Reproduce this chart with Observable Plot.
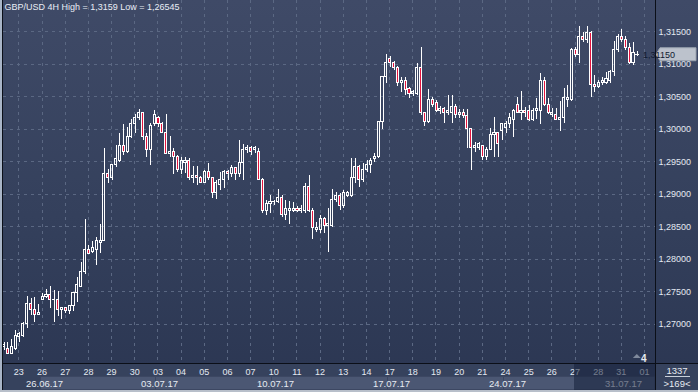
<!DOCTYPE html>
<html><head><meta charset="utf-8">
<script src="https://cdn.jsdelivr.net/npm/d3@7"></script>
<script src="https://cdn.jsdelivr.net/npm/@observablehq/plot@0.6"></script>
<style>
html,body{margin:0;padding:0;background:#2b3753;}
#chart{width:698px;height:392px;overflow:hidden;}
svg{display:block;}
</style></head><body><div id="chart"></div>
<script>
const symbol = "GBP/USD";
const timeframe = "4H";
const open = [1.2665,1.2663,1.2655,1.2663,1.2680,1.2683,1.2700,1.2731,1.2723,1.2715,
1.2738,1.2742,1.2745,1.2738,1.2737,1.2722,1.2725,1.2720,1.2729,1.2748,
1.2758,1.2780,1.2814,1.2811,1.2815,1.2826,1.2829,1.2931,1.2925,1.2945,
1.2952,1.2975,1.2966,1.2989,1.3008,1.3018,1.3025,1.2988,1.2969,1.3008,
1.3017,1.3008,1.2995,1.2963,1.2966,1.2957,1.2938,1.2949,1.2951,1.2925,
1.2929,1.2926,1.2918,1.2934,1.2925,1.2902,1.2915,1.2922,1.2934,1.2931,
1.2940,1.2931,1.2949,1.2968,1.2971,1.2968,1.2966,1.2923,1.2874,1.2886,
1.2888,1.2889,1.2894,1.2868,1.2875,1.2875,1.2878,1.2875,1.2875,1.2911,
1.2875,1.2845,1.2845,1.2863,1.2851,1.2852,1.2892,1.2898,1.2882,1.2898,
1.2898,1.2926,1.2942,1.2923,1.2938,1.2945,1.2954,1.2957,1.3011,1.3080,
1.3109,1.3102,1.3095,1.3071,1.3075,1.3062,1.3055,1.3055,1.3094,1.3025,
1.3012,1.3045,1.3040,1.3028,1.3031,1.3025,1.3026,1.3035,1.3022,1.3026,
1.3020,1.3000,1.2971,1.2972,1.2974,1.2958,1.2969,1.2991,1.2995,1.2997,
1.3002,1.3008,1.3015,1.3038,1.3026,1.3028,1.3029,1.3015,1.3028,1.3029,
1.3075,1.3038,1.3022,1.3023,1.3015,1.3017,1.3045,1.3046,1.3122,1.3114,
1.3143,1.3137,1.3149,1.3069,1.3065,1.3071,1.3072,1.3075,1.3088,1.3122,
1.3143,1.3137,1.3125,1.3102,1.3115];
const high = [1.2672,1.2672,1.2677,1.2691,1.2688,1.2703,1.2743,1.2740,1.2742,1.2731,
1.2748,1.2754,1.2758,1.2752,1.2751,1.2726,1.2726,1.2729,1.2748,1.2772,
1.2795,1.2862,1.2822,1.2828,1.2834,1.2854,1.2971,1.2938,1.2945,1.2975,
1.2994,1.3008,1.3003,1.3015,1.3023,1.3031,1.3026,1.2994,1.3009,1.3029,
1.3020,1.3011,1.3023,1.2989,1.2971,1.2960,1.2957,1.2957,1.2955,1.2943,
1.2943,1.2928,1.2937,1.2948,1.2926,1.2922,1.2934,1.2937,1.2937,1.2945,
1.2942,1.2983,1.2977,1.2975,1.2974,1.2974,1.2971,1.2925,1.2891,1.2898,
1.2891,1.2908,1.2898,1.2891,1.2889,1.2888,1.2882,1.2883,1.2917,1.2929,
1.2878,1.2857,1.2868,1.2865,1.2878,1.2908,1.2903,1.2902,1.2906,1.2905,
1.2955,1.2955,1.2945,1.2948,1.2952,1.2955,1.2963,1.3012,1.3080,1.3115,
1.3112,1.3105,1.3097,1.3080,1.3080,1.3065,1.3060,1.3102,1.3126,1.3026,
1.3062,1.3049,1.3045,1.3035,1.3034,1.3052,1.3052,1.3038,1.3031,1.3031,
1.3031,1.3002,1.2980,1.2980,1.2975,1.2972,1.3002,1.3018,1.2995,1.3009,
1.3012,1.3025,1.3031,1.3049,1.3058,1.3034,1.3037,1.3032,1.3048,1.3086,
1.3080,1.3048,1.3032,1.3032,1.3043,1.3063,1.3068,1.3125,1.3126,1.3158,
1.3149,1.3159,1.3151,1.3083,1.3075,1.3080,1.3088,1.3091,1.3135,1.3146,
1.3154,1.3143,1.3132,1.3134,1.3120];
const low = [1.2660,1.26545,1.2655,1.2660,1.2672,1.2680,1.2694,1.2714,1.2703,1.2714,
1.2737,1.2740,1.2725,1.2703,1.2712,1.2708,1.2717,1.2715,1.2720,1.2734,
1.2757,1.2777,1.2809,1.2809,1.2791,1.2809,1.2828,1.2917,1.2922,1.2942,
1.2949,1.2960,1.2963,1.2986,1.2994,1.3014,1.2983,1.2957,1.2945,1.3005,
1.3003,1.2994,1.2962,1.2957,1.2931,1.2934,1.2931,1.2932,1.2922,1.2917,
1.2914,1.2917,1.2917,1.2922,1.2894,1.2892,1.2906,1.2909,1.2922,1.2926,
1.2922,1.2926,1.2922,1.2963,1.2960,1.2963,1.2922,1.2871,1.2868,1.2871,
1.2883,1.2886,1.2865,1.2860,1.2854,1.2872,1.2872,1.2871,1.2871,1.2872,
1.2831,1.2842,1.2840,1.2840,1.2811,1.2849,1.2888,1.2875,1.2878,1.2895,
1.2895,1.2917,1.2911,1.2918,1.2934,1.2932,1.2949,1.2955,1.3000,1.3071,
1.3095,1.3091,1.3066,1.3057,1.3052,1.3048,1.3051,1.3052,1.3022,1.3005,
1.3009,1.3034,1.3026,1.3023,1.3009,1.3022,1.3009,1.3017,1.3017,1.3017,
1.2971,1.2937,1.2965,1.2968,1.2952,1.2952,1.2968,1.2957,1.2957,1.2983,
1.2994,1.3002,1.2988,1.3025,1.3014,1.3018,1.3012,1.3012,1.3015,1.3008,
1.3035,1.3023,1.3018,1.3014,1.2997,1.3009,1.3034,1.3043,1.3111,1.3102,
1.3134,1.3132,1.3049,1.3057,1.3063,1.3068,1.3069,1.3071,1.3082,1.3118,
1.3134,1.3122,1.3100,1.3098,1.3112];
const close = [1.2668,1.2655,1.2665,1.2682,1.2685,1.2700,1.2731,1.2723,1.2715,1.2718,
1.2743,1.2745,1.2738,1.2737,1.2722,1.2725,1.2720,1.2729,1.2748,1.2760,
1.2780,1.2814,1.2809,1.2817,1.2828,1.2829,1.2931,1.2925,1.2945,1.2954,
1.2975,1.2966,1.2989,1.3008,1.3017,1.3025,1.2988,1.2969,1.3006,1.3022,
1.3008,1.2995,1.2963,1.2966,1.2957,1.2938,1.2952,1.2952,1.2925,1.2929,
1.2926,1.2918,1.2934,1.2925,1.2902,1.2917,1.2922,1.2934,1.2931,1.2940,
1.2931,1.2949,1.2969,1.2971,1.2965,1.2971,1.2923,1.2874,1.2886,1.2888,
1.2889,1.2894,1.2868,1.2877,1.2878,1.2878,1.2875,1.2878,1.2911,1.2875,
1.2849,1.2848,1.2863,1.2852,1.2854,1.2892,1.2898,1.2882,1.2902,1.2902,
1.2926,1.2942,1.2923,1.2938,1.2946,1.2952,1.2957,1.3012,1.3080,1.3102,
1.3102,1.3095,1.3071,1.3075,1.3060,1.3055,1.3057,1.3094,1.3025,1.3012,
1.3045,1.3038,1.3029,1.3031,1.3025,1.3029,1.3035,1.3022,1.3026,1.3020,
1.3000,1.2971,1.2975,1.2977,1.2958,1.2969,1.2992,1.2994,1.2978,1.3008,
1.3009,1.3017,1.3028,1.3026,1.3028,1.3026,1.3015,1.3028,1.3031,1.3075,
1.3038,1.3025,1.3026,1.3015,1.3018,1.3048,1.3048,1.3122,1.3114,1.3143,
1.3137,1.3149,1.3068,1.3065,1.3071,1.3074,1.3077,1.3089,1.3122,1.3143,
1.3137,1.3125,1.3102,1.3117,1.3115];
const dayLabels = ["23","26","27","28","29","30","03","04","05","06","07","10","11","12","13","14","17","18","19","20","21","24","25","26","27","28","31","01"];
const weekLabels = ["26.06.17","03.07.17","10.07.17","17.07.17","24.07.17","31.07.17"];
const weekStartDay = [1,6,11,16,21,26];
const priceTicks = [1.27,1.275,1.28,1.285,1.29,1.295,1.30,1.305,1.31,1.315];
const barTotal = "1337";
const barsVisible = ">169<";
const markerText = "4";

const W = 698, H = 392;
const bars = open.map((o, k) => ({i: k + 1, open: o, high: high[k], low: low[k], close: close[k]}));
const dayPos = dayLabels.map((d, k) => 4.85 + 6 * k);
const dayMap = new Map(dayPos.map((p, k) => [p, dayLabels[k]]));
const comma = v => String(v).replace(".", ",");
const header = `${symbol} ${timeframe} High = ${comma(d3.max(high))} Low = ${comma(d3.min(low))}`;
const FONT = "'Liberation Sans', Arial, sans-serif";
const RED = "#e3143e";
const isDoji = d => Math.abs(d.open - d.close) < 0.00005;

const plot = Plot.plot({
  width: W, height: H,
  marginLeft: 3, marginRight: 43, marginTop: 0, marginBottom: 29,
  style: {background: "linear-gradient(to bottom, #3f4a67 0%, #34405c 55%, #2b3652 100%)", fontFamily: FONT, fontSize: "9px", color: "#e4e9f1"},
  x: {domain: [0.8705, 169.69], ticks: dayPos, tickFormat: d => dayMap.get(d), tickSize: 0, tickPadding: 5, label: null},
  y: {domain: [1.264, 1.319846], axis: "right", ticks: priceTicks, tickFormat: d => d.toFixed(5).replace(".", ","), tickSize: 0, tickPadding: 3, label: null},
  marks: [
    Plot.ruleY(priceTicks, {stroke: "#5b6883", strokeDasharray: "3,4", shapeRendering: "crispEdges"}),
    Plot.ruleX(dayPos, {stroke: "#5b6883", strokeDasharray: "3,4", shapeRendering: "crispEdges"}),
    Plot.ruleX(bars, {x: "i", y1: d => Math.max(d.open, d.close), y2: "high", stroke: "#ffffff", shapeRendering: "crispEdges"}),
    Plot.ruleX(bars, {x: "i", y1: "low", y2: d => Math.min(d.open, d.close), stroke: "#ffffff", shapeRendering: "crispEdges"}),
    Plot.rect(bars.filter(d => !isDoji(d)), {x1: d => d.i - 0.27, x2: d => d.i + 0.27, y1: "open", y2: "close",
      fill: d => d.close < d.open ? RED : "none", stroke: "#ffffff", strokeWidth: 1, shapeRendering: "crispEdges"}),
    Plot.ruleY(bars.filter(isDoji), {y: "close", x1: d => d.i - 0.45, x2: d => d.i + 0.45, stroke: "#ffffff", shapeRendering: "crispEdges"}),
    Plot.text([header], {frameAnchor: "top-left", dx: 1, dy: 3, lineAnchor: "top", fill: "#e8edf5", fontSize: 9, fontFamily: FONT})
  ]
});

document.getElementById("chart").appendChild(plot);
const xs = plot.scale("x"), ys = plot.scale("y");
const svg = d3.select(plot);
const right = W - 43, bottom = H - 29;

// bottom time area backgrounds (behind axis labels)
const gb = svg.insert("g", "g");
gb.append("rect").attr("x", 0).attr("y", bottom).attr("width", W).attr("height", H - bottom).attr("fill", "#36425d");
weekStartDay.forEach((k, j) => {
  const x0 = Math.round(xs.apply(dayPos[k])) - 1.5;
  const x1 = j + 1 < weekStartDay.length ? Math.round(xs.apply(dayPos[weekStartDay[j + 1]])) - 1.5 : right;
  gb.append("rect").attr("x", x0).attr("y", 376.5).attr("width", x1 - x0).attr("height", 13)
    .attr("fill", "#4b5773").attr("stroke", "#3c4762");
  gb.append("text").attr("x", x0 + 4).attr("y", 386.5).attr("fill", "#e6ebf2")
    .attr("font-family", FONT).attr("font-size", 9.5).text(weekLabels[j]);
});

// dimmed region at the right end of the time axis
const ov = Math.round(xs.apply(dayPos[24])) - 1;
svg.append("rect").attr("x", ov).attr("y", bottom + 1).attr("width", right - ov).attr("height", H - bottom - 3)
  .attr("fill", "#16203a").attr("fill-opacity", 0.55);

// right panel bottom
svg.append("rect").attr("x", right).attr("y", bottom).attr("width", W - right).attr("height", H - bottom).attr("fill", "#36425d");
svg.append("text").attr("x", 677).attr("y", 374).attr("text-anchor", "middle").attr("fill", "#e6ebf2")
  .attr("font-family", FONT).attr("font-size", 9.5).text(barTotal);
svg.append("line").attr("x1", 665).attr("x2", 690).attr("y1", 376.5).attr("y2", 376.5).attr("stroke", "#c9d0da");
svg.append("text").attr("x", 677).attr("y", 387).attr("text-anchor", "middle").attr("fill", "#e6ebf2")
  .attr("font-family", FONT).attr("font-size", 9.5).text(barsVisible);

// marker near the end of the plot
const mx = xs.apply(166.8);
svg.append("path").attr("d", `M${mx - 11},358 L${mx - 7},354 L${mx - 3},358 Z`).attr("fill", "#7f899c");
svg.append("text").attr("x", mx).attr("y", 362).attr("text-anchor", "middle").attr("fill", "#e6ebf2")
  .attr("font-family", FONT).attr("font-size", 10).attr("font-weight", "bold").text(markerText);

// current price tag
const last = close[close.length - 1];
const py = ys.apply(last);
svg.append("path").attr("d", `M${right + 1},${py} L${right + 5},${py - 6.5} L${W - 2},${py - 6.5} L${W - 2},${py + 6.5} L${right + 5},${py + 6.5} Z`)
  .attr("fill", "#bcc2cc").attr("stroke", "#9aa2ae");
svg.append("text").attr("x", right + 4).attr("y", py + 3.3).attr("fill", "#101a30")
  .attr("font-family", FONT).attr("font-size", 9).text(last.toFixed(5).replace(".", ","));

// frame lines
svg.append("line").attr("x1", 0).attr("x2", W).attr("y1", bottom + 0.5).attr("y2", bottom + 0.5).attr("stroke", "#0b0f18");
svg.append("line").attr("x1", right + 0.5).attr("x2", right + 0.5).attr("y1", 0).attr("y2", H).attr("stroke", "#0b0f18");
svg.append("rect").attr("x", 0).attr("y", 0).attr("width", 2).attr("height", H).attr("fill", "#a9b5c7");
svg.append("line").attr("x1", 2.5).attr("x2", 2.5).attr("y1", 0).attr("y2", H).attr("stroke", "#0b0f18");
svg.append("rect").attr("x", 0).attr("y", H - 2).attr("width", W).attr("height", 2).attr("fill", "#b8bfca");
</script>
</body></html>
